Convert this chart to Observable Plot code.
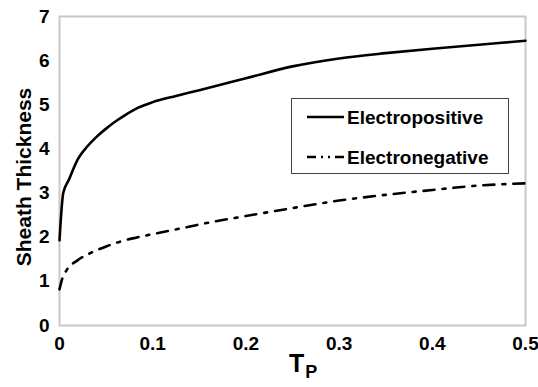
<!DOCTYPE html>
<html>
<head>
<meta charset="utf-8">
<script src="https://cdn.jsdelivr.net/npm/d3@7"></script>
<script src="https://cdn.jsdelivr.net/npm/@observablehq/plot@0.6"></script>
<style>
  html, body { margin: 0; padding: 0; background: #fff; }
  #chart { width: 538px; height: 387px; }
</style>
</head>
<body>
<div id="chart"></div>
<script>
// ---- data ----
const seriesNames = ["Electropositive", "Electronegative"];
const tpPositive = [0, 0.004, 0.01, 0.02, 0.03, 0.04, 0.05, 0.06, 0.07, 0.085, 0.1, 0.125, 0.15, 0.2, 0.25, 0.3, 0.35, 0.4, 0.45, 0.5];
const thickPositive = [1.93, 3.0, 3.3, 3.78, 4.06, 4.28, 4.46, 4.62, 4.76, 4.94, 5.06, 5.2, 5.33, 5.6, 5.87, 6.05, 6.17, 6.27, 6.36, 6.45];
const tpNegative = [0, 0.003, 0.0075, 0.019, 0.034, 0.05, 0.065, 0.082, 0.1, 0.13, 0.16, 0.2, 0.25, 0.3, 0.35, 0.4, 0.45, 0.5];
const thickNegative = [0.82, 1.06, 1.25, 1.47, 1.65, 1.79, 1.9, 1.99, 2.07, 2.2, 2.33, 2.48, 2.66, 2.83, 2.96, 3.07, 3.17, 3.22];
const xTicks = [0, 0.1, 0.2, 0.3, 0.4, 0.5];
const yTicks = [0, 1, 2, 3, 4, 5, 6, 7];
const yTitle = "Sheath Thickness";
const xTitleMain = "T";
const xTitleSub = "P";

const positive = tpPositive.map((x, i) => ({x, y: thickPositive[i]}));
const negative = tpNegative.map((x, i) => ({x, y: thickNegative[i]}));
const DASH = "11,8,3,8";
const FONT = "'Liberation Sans', Arial, sans-serif";
const xFmt = d => d === 0 ? "0" : d3.format(".1f")(d);
const yFmt = d3.format("d");

const plot = Plot.plot({
  width: 538,
  height: 387,
  marginLeft: 59,
  marginRight: 13,
  marginTop: 16,
  marginBottom: 62,
  style: {fontFamily: FONT, fontSize: "19px", fontWeight: "bold", color: "#000", background: "#fff"},
  x: {domain: [0, 0.5], ticks: xTicks, tickFormat: xFmt, label: null},
  y: {domain: [0, 7], ticks: yTicks, tickFormat: yFmt, label: null},
  marks: [
    Plot.frame({stroke: "#c8c8c8", strokeWidth: 2}),
    Plot.axisX({ticks: xTicks, tickFormat: xFmt, tickSize: 0, tickPadding: 11, label: null}),
    Plot.axisY({ticks: yTicks, tickFormat: yFmt, tickSize: 0, tickPadding: 10, label: null}),
    Plot.line(positive, {x: "x", y: "y", curve: "monotone-x", stroke: "#000", strokeWidth: 2.6}),
    Plot.line(negative, {x: "x", y: "y", curve: "monotone-x", stroke: "#000", strokeWidth: 2.6, strokeDasharray: DASH})
  ]
});
document.getElementById("chart").appendChild(plot);

const svg = d3.select(plot);
// y axis title
svg.append("text")
  .attr("transform", "translate(31,177) rotate(-90)")
  .attr("text-anchor", "middle")
  .attr("font-family", FONT).attr("font-weight", "bold").attr("font-size", 21)
  .attr("fill", "#000")
  .text(yTitle);
// x axis title with subscript
const xt = svg.append("text")
  .attr("x", 289).attr("y", 372)
  .attr("text-anchor", "start")
  .attr("font-family", FONT).attr("font-weight", "bold").attr("font-size", 25)
  .attr("fill", "#000");
xt.append("tspan").text(xTitleMain);
xt.append("tspan").attr("font-size", 18).attr("dx", 1).attr("dy", 6).text(xTitleSub);

// legend
const lg = svg.append("g").attr("text-anchor", "start");
lg.append("rect").attr("x", 291.5).attr("y", 98.5).attr("width", 217).attr("height", 75)
  .attr("fill", "#fff").attr("stroke", "#444").attr("stroke-width", 1);
const rows = [{name: seriesNames[0], y: 117, dash: null}, {name: seriesNames[1], y: 157, dash: DASH}];
rows.forEach(r => {
  const ln = lg.append("line").attr("x1", 307).attr("x2", 344).attr("y1", r.y).attr("y2", r.y)
    .attr("stroke", "#000").attr("stroke-width", 2.6);
  if (r.dash) ln.attr("stroke-dasharray", "9,5,2,5,2,5");
  lg.append("text").attr("x", 347).attr("y", r.y + 6.5)
    .attr("text-anchor", "start")
    .attr("font-family", FONT).attr("font-weight", "bold").attr("font-size", 19)
    .attr("fill", "#000").text(r.name);
});
</script>
</body>
</html>
